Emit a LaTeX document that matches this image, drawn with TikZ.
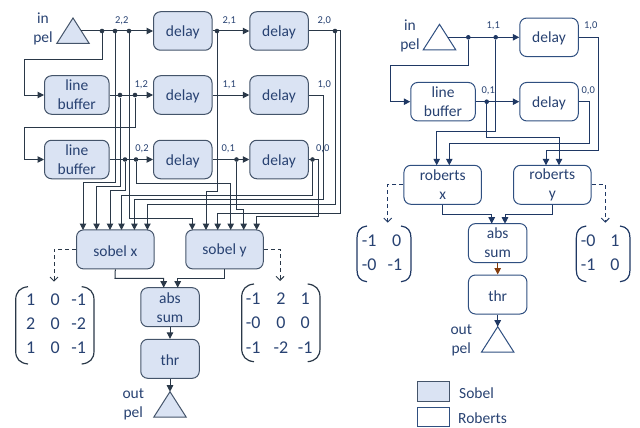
\documentclass[tikz,border=0pt]{standalone}
\usepackage{fontspec}
\setmainfont{Carlito}
\usetikzlibrary{arrows.meta,shapes.geometric}
\definecolor{sobelfill}{HTML}{DAE3F3}
\definecolor{sobelline}{HTML}{44546A}
\definecolor{robline}{HTML}{2F4F80}
\definecolor{wirec}{HTML}{2A3848}
\definecolor{robwire}{HTML}{1F3864}
\definecolor{textc}{HTML}{284272}
\definecolor{brownc}{HTML}{843C0C}
\tikzset{
 block/.style={draw,rounded corners=7pt,line width=1pt,inner sep=0pt,text=textc,align=center,
  font=\fontsize{15.5}{19}\selectfont,execute at begin node={\rule{0pt}{13.5pt}}},
 dlybox/.style={block,minimum width=58.5pt,minimum height=38.5pt},
 lbbox/.style={block,minimum width=64.5pt,minimum height=38.5pt},
 filterbox/.style={block,minimum width=77.5pt,minimum height=39pt},
 sumbox/.style={block,minimum width=58.5pt,minimum height=39pt},
 sobel/.style={fill=sobelfill,draw=sobelline},
 roberts/.style={fill=white,draw=robline},
 pelport/.style={draw,isosceles triangle,isosceles triangle stretches,shape border rotate=90,
  minimum height=25.5pt,minimum width=32.5pt,inner sep=0pt,outer sep=0pt,anchor=apex,line width=1pt},
 lbl/.style={text=textc,inner sep=0pt,align=center,font=\fontsize{15.5}{19}\selectfont,
  execute at begin node={\rule{0pt}{13.5pt}}},
 idx/.style={text=textc,inner sep=0pt,font=\fontsize{10.5}{12}\selectfont},
 entry/.style={text=textc,inner sep=0pt,font=\fontsize{18}{20}\selectfont},
 jct/.style={circle,fill=wirec,inner sep=0pt,minimum size=4.6pt},
 wire/.style={draw=wirec,line width=1pt},
 rwire/.style={draw=robwire,line width=1pt},
 arr/.style={-{Triangle[length=6.5pt,width=6.5pt]}},
 dashline/.style={draw=wirec,line width=.9pt,dashed,dash pattern=on 4pt off 3pt,-{Straight Barb[length=4pt,width=8pt]}},
 paren/.style={draw=wirec,line width=1.2pt},
}
\begin{document}
\begin{tikzpicture}[x=1pt,y=-1pt]
 \useasboundingbox (0,0) rectangle (640,428);
 % sobel side
 \node[lbl] (inl) at (43,29) {in\\pel};
 \node[pelport,sobel] (inp) at (73,18) {};
 \coordinate (inout) at (81,31);
 \node[dlybox,sobel] (dly21) at (182.75,31) {delay};
 \node[dlybox,sobel] (dly20) at (279,31) {delay};
 \node[lbbox,sobel] (lb12) at (76.75,95) {line\\buffer};
 \node[dlybox,sobel] (dly11) at (182.75,95) {delay};
 \node[dlybox,sobel] (dly10) at (279,95) {delay};
 \node[lbbox,sobel] (lb02) at (76.75,159.5) {line\\buffer};
 \node[dlybox,sobel] (dly01) at (182.75,159.5) {delay};
 \node[dlybox,sobel] (dly00) at (279,159.5) {delay};
 \node[filterbox,sobel] (sbx) at (115.3,249.4) {sobel x};
 \node[filterbox,sobel] (sby) at (224.5,249.4) {sobel y};
 \node[sumbox,sobel] (sabs) at (170,307.2) {abs\\sum};
 \node[sumbox,sobel] (sthr) at (170,358.8) {thr};
 \node[pelport,sobel] (outp) at (170,391.7) {};
 \node[lbl] (outl) at (133.3,404) {out\\pel};
 % pixel labels
 \node[idx] (t22) at (121.7,20.7) {2,2};
 \node[idx] (t21) at (229.3,20.7) {2,1};
 \node[idx] (t20) at (324.3,20.7) {2,0};
 \node[idx] (t12) at (141.3,85) {1,2};
 \node[idx] (t11) at (229.3,85) {1,1};
 \node[idx] (t10) at (324.3,85) {1,0};
 \node[idx] (t02) at (142,148.7) {0,2};
 \node[idx] (t01) at (228.3,148.7) {0,1};
 \node[idx] (t00) at (322.7,148.7) {0,0};
 % taps
 \node[jct] (j22a) at (102,31) {};
 \node[jct] (j22b) at (115,31) {};
 \node[jct] (j22c) at (129,31) {};
 \node[jct] (j21) at (217,31) {};
 \node[jct] (j20) at (335,31) {};
 \node[jct] (j12a) at (120,95) {};
 \node[jct] (j12b) at (135,95) {};
 \node[jct] (j02a) at (125,159.5) {};
 \node[jct] (j02b) at (136,159.5) {};
 \node[jct] (j01) at (236.5,159.5) {};
 \node[jct] (j00) at (312.5,159.5) {};
 \coordinate (sx1) at (83,230);
 \coordinate (sx2) at (96.6,230);
 \coordinate (sx3) at (110,230);
 \coordinate (sx4) at (121.5,230);
 \coordinate (sx5) at (134.4,230);
 \coordinate (sx6) at (147.4,230);
 \coordinate (sy1) at (192.2,230);
 \coordinate (sy2) at (206,230);
 \coordinate (sy3) at (217.7,230);
 \coordinate (sy4) at (230.7,230);
 \coordinate (sy5) at (243.7,230);
 \coordinate (sy6) at (256.7,230);
 % rows
 \draw[wire,arr] (inout) -- (dly21.west);
 \draw[wire,arr] (dly21.east) -- (dly20.west);
 \draw[wire,arr] (lb12.east) -- (dly11.west);
 \draw[wire,arr] (dly11.east) -- (dly10.west);
 \draw[wire,arr] (lb02.east) -- (dly01.west);
 \draw[wire,arr] (dly01.east) -- (dly00.west);
 \draw[wire,arr] (j22a) -- (102,60) -| (24,95) -- (lb12.west);
 \draw[wire,arr] (j12b) -- (135,127) -| (24,159.5) -- (lb02.west);
 % to sobel x
 \draw[wire,arr] (j22b) -- (115,182.3) -| (sx1);
 \draw[wire,arr] (j12a) -- (120,186.5) -| (sx2);
 \draw[wire,arr] (j02a) -- (125,190.3) -| (sx3);
 \draw[wire,arr] (j00) -- (312.5,195.3) -| (sx4);
 \draw[wire,arr] (dly10.east) -| (323.7,199.3) -| (sx5);
 \draw[wire,arr] (j20) -- (335,204) -| (sx6);
 % to sobel y
 \draw[wire,arr] (j22c) -- (129,218) -| (sy1);
 \draw[wire,arr] (j21) -- (217,191.3) -| (sy2);
 \draw[wire,arr] (dly20.east) -| (340.5,213.5) -| (sy3);
 \draw[wire,arr] (j02b) -- (136,183) -| (sy4);
 \draw[wire,arr] (j01) -- (236.5,209.5) -| (sy5);
 \draw[wire,arr] (dly00.east) -| (318,216.5) -| (sy6);
 % sum and threshold
 \draw[wire,arr] (sbx.south) -- (115,278.3) -| (163.7,287.7);
 \draw[wire,arr] (sby.south) -- (224.5,278.3) -| (177.7,287.7);
 \draw[wire,arr] (sabs.south) -- (sthr.north);
 \draw[wire,arr] (sthr.south) -- (outp.apex);
 \draw[dashline] (sbx.west) -| (54,281.7);
 \draw[dashline] (sby.east) -| (280,281);
 % sobel x kernel
 \draw[paren] (28,286.7) .. controls (20,287.5) and (15.7,292) .. (15.7,300) -- (15.7,351) .. controls (15.7,359) and (20,363.2) .. (28,364);
 \draw[paren] (81.7,286.7) .. controls (89.7,287.5) and (94,292) .. (94,300) -- (94,351) .. controls (94,359) and (89.7,363.2) .. (81.7,364);
 \node[entry] (a11) at (30.7,299.3) {1};
 \node[entry] (a12) at (55.3,299.3) {0};
 \node[entry] (a13) at (78.7,299.3) {-1};
 \node[entry] (a21) at (30.7,324) {2};
 \node[entry] (a22) at (55.3,324) {0};
 \node[entry] (a23) at (78.7,324) {-2};
 \node[entry] (a31) at (30.7,347.3) {1};
 \node[entry] (a32) at (55.3,347.3) {0};
 \node[entry] (a33) at (78.7,347.3) {-1};
 % sobel y kernel
 \draw[paren] (254,284) .. controls (246,284.8) and (241.7,289.3) .. (241.7,297.3) -- (241.7,348.4) .. controls (241.7,356.4) and (246,361) .. (254,361.7);
 \draw[paren] (307.7,284) .. controls (315.7,284.8) and (320,289.3) .. (320,297.3) -- (320,348.4) .. controls (320,356.4) and (315.7,361) .. (307.7,361.7);
 \node[entry] (b11) at (253.3,299) {-1};
 \node[entry] (b12) at (281,299) {2};
 \node[entry] (b13) at (305.3,299) {1};
 \node[entry] (b21) at (253.3,322.7) {-0};
 \node[entry] (b22) at (281,322.7) {0};
 \node[entry] (b23) at (305.3,322.7) {0};
 \node[entry] (b31) at (253.3,347.3) {-1};
 \node[entry] (b32) at (281,347.3) {-2};
 \node[entry] (b33) at (305.3,347.3) {-1};
 % roberts side
 \node[lbl] (rinl) at (410,36) {in\\pel};
 \node[pelport,roberts] (rinp) at (439.5,24.3) {};
 \coordinate (rinout) at (448,37.3);
 \node[dlybox,roberts] (rdly10) at (549,37.3) {delay};
 \node[lbbox,roberts] (rlb01) at (443,101.7) {line\\buffer};
 \node[dlybox,roberts] (rdly00) at (549,101.7) {delay};
 \node[filterbox,roberts] (rbx) at (442.7,184.8) {roberts\\x};
 \node[filterbox,roberts] (rby) at (552.3,184.8) {roberts\\y};
 \node[sumbox,roberts] (rabs) at (497.7,243.1) {abs\\sum};
 \node[sumbox,roberts] (rthr) at (497.7,294.5) {thr};
 \node[pelport,roberts] (routp) at (497.7,326.7) {};
 \node[lbl] (routl) at (461.3,340) {out\\pel};
 \node[idx] (r11) at (493.3,25.7) {1,1};
 \node[idx] (r10) at (590.7,25.7) {1,0};
 \node[idx] (r01) at (488.3,90.7) {0,1};
 \node[idx] (r00) at (588.3,90.7) {0,0};
 \node[jct,fill=robwire] (rja) at (468.3,37.3) {};
 \node[jct,fill=robwire] (rjb) at (495.7,37.3) {};
 \node[jct,fill=robwire] (rjc) at (486.7,101.7) {};
 \coordinate (rx1) at (436.7,165.3);
 \coordinate (rx2) at (449.3,165.3);
 \coordinate (ry1) at (546,165.3);
 \coordinate (ry2) at (559,165.3);
 \draw[rwire,arr] (rinout) -- (rdly10.west);
 \draw[rwire,arr] (rlb01.east) -- (rdly00.west);
 \draw[rwire,arr] (rja) -- (468.3,66) -| (390.7,101.7) -- (rlb01.west);
 \draw[rwire,arr] (rjb) -- (495.7,131.7) -| (rx1);
 \draw[rwire,arr] (rjc) -- (486.7,137.7) -| (ry2);
 \draw[rwire,arr] (rdly00.east) -| (589.3,143.3) -| (rx2);
 \draw[rwire,arr] (rdly10.east) -| (598.3,150.7) -| (ry1);
 \draw[rwire,arr] (rbx.south) -- (442.7,214) -| (491.7,223.7);
 \draw[rwire,arr] (rby.south) -- (552.3,214) -| (505,223.7);
 \draw[rwire,draw=brownc,-{Triangle[length=6.5pt,width=6.5pt,fill=brownc]}] (rabs.south) -- (rthr.north);
 \draw[rwire,arr] (rthr.south) -- (routp.apex);
 \draw[dashline,draw=robwire] (rbx.west) -| (387.7,222.7);
 \draw[dashline,draw=robwire] (rby.east) -| (605.3,222.7);
 % roberts x kernel
 \draw[paren,draw=robwire] (367,226) .. controls (360,226.8) and (357,231) .. (357,238) -- (357,270) .. controls (357,277) and (360,281) .. (367,281.7);
 \draw[paren,draw=robwire] (401,226) .. controls (408,226.8) and (411,231) .. (411,238) -- (411,270) .. controls (411,277) and (408,281) .. (401,281.7);
 \node[entry] (c11) at (369.3,240.7) {-1};
 \node[entry] (c12) at (396.7,240.7) {0};
 \node[entry] (c21) at (369.3,265) {-0};
 \node[entry] (c22) at (395,265) {-1};
 % roberts y kernel
 \draw[paren,draw=robwire] (586.3,226) .. controls (579.3,226.8) and (576.3,231) .. (576.3,238) -- (576.3,270) .. controls (576.3,277) and (579.3,281) .. (586.3,281.7);
 \draw[paren,draw=robwire] (620,226) .. controls (627,226.8) and (630,231) .. (630,238) -- (630,270) .. controls (630,277) and (627,281) .. (620,281.7);
 \node[entry] (e11) at (588.3,240.7) {-0};
 \node[entry] (e12) at (615,240.7) {1};
 \node[entry] (e21) at (588.3,265) {-1};
 \node[entry] (e22) at (615,265) {0};
 % legend
 \node[draw,sobel,line width=1pt,minimum width=32pt,minimum height=19.5pt,inner sep=0pt] (legs) at (433.3,391.7) {};
 \node[draw,roberts,line width=1pt,minimum width=32pt,minimum height=19.5pt,inner sep=0pt] (legr) at (433.3,417) {};
 \node[lbl,anchor=west] (legst) at (459,392) {Sobel};
 \node[lbl,anchor=west] (legrt) at (458,417.3) {Roberts};
\end{tikzpicture}
\end{document}
